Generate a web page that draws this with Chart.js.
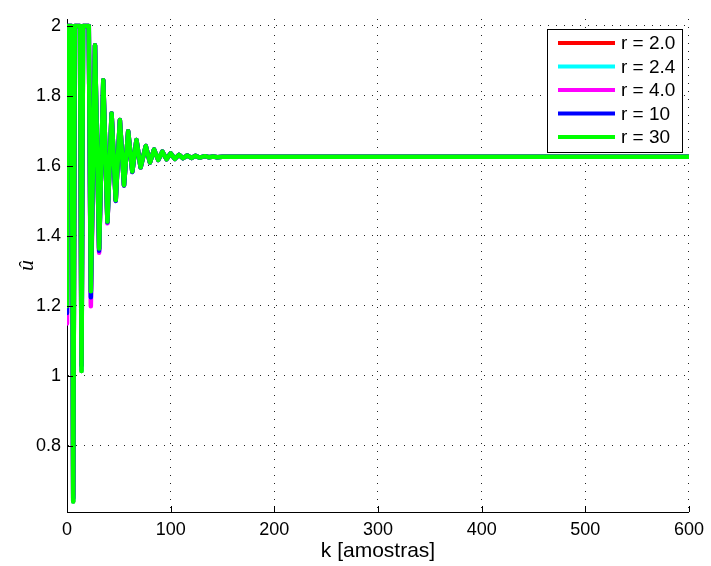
<!DOCTYPE html>
<html>
<head>
<meta charset="utf-8">
<script src="https://cdn.jsdelivr.net/npm/chart.js@4.4.1/dist/chart.umd.min.js"></script>
<style>
  html, body { margin: 0; padding: 0; background: #ffffff; }
  canvas { display: block; }
</style>
</head>
<body>
<canvas id="chart" width="711" height="566"></canvas>
<script>
// Control signal û[k] for each value of r: sample instants where the
// signal turns (saturation edges, peaks, troughs) and the value reached there.
const kR30 = [0, 1, 4.5, 6, 7.5, 12.5, 14, 15.5, 21, 23, 27, 31, 35, 39, 43, 47, 51, 55, 59, 63, 67, 71, 76, 80, 84, 88, 92, 96, 100, 104, 108, 112, 116, 120, 124, 128, 133, 137, 141, 145, 150, 600];
const uR30 = [1.20, 2.00, 2.00, 0.641, 2.00, 2.00, 1.014, 2.00, 2.00, 1.242, 1.945, 1.364, 1.845, 1.441, 1.750, 1.502, 1.731, 1.545, 1.699, 1.584, 1.674, 1.596, 1.657, 1.610, 1.647, 1.617, 1.641, 1.619, 1.636, 1.620, 1.632, 1.622, 1.630, 1.623, 1.629, 1.624, 1.628, 1.625, 1.627, 1.625, 1.626, 1.626];

const kR10 = [0, 1, 4.5, 6, 7.5, 12.5, 14, 15.5, 21, 23, 27, 31, 35, 39, 43, 47, 51, 55, 59, 63, 67, 71, 76, 80, 84, 88, 92, 96, 100, 104, 108, 112, 116, 120, 124, 128, 133, 137, 141, 145, 150, 600];
const uR10 = [1.18, 2.00, 2.00, 0.650, 2.00, 2.00, 1.030, 2.00, 2.00, 1.225, 1.945, 1.358, 1.845, 1.439, 1.750, 1.500, 1.731, 1.544, 1.699, 1.583, 1.674, 1.596, 1.657, 1.610, 1.647, 1.617, 1.641, 1.619, 1.636, 1.620, 1.632, 1.622, 1.630, 1.623, 1.629, 1.624, 1.628, 1.625, 1.627, 1.625, 1.626, 1.626];

const kR4 = [0, 1, 4.5, 6, 7.5, 12.5, 14, 15.5, 21, 23, 27, 31, 35, 39, 43, 47, 51, 55, 59, 63, 67, 71, 76, 80, 84, 88, 92, 96, 100, 104, 108, 112, 116, 120, 124, 128, 133, 137, 141, 145, 150, 600];
const uR4 = [1.15, 2.00, 2.00, 0.660, 2.00, 2.00, 1.050, 2.00, 2.00, 1.199, 1.945, 1.352, 1.845, 1.436, 1.750, 1.500, 1.731, 1.544, 1.699, 1.583, 1.674, 1.596, 1.657, 1.610, 1.647, 1.617, 1.641, 1.619, 1.636, 1.620, 1.632, 1.622, 1.630, 1.623, 1.629, 1.624, 1.628, 1.625, 1.627, 1.625, 1.626, 1.626];

// r = 2.0 and r = 2.4 follow the r = 30 trajectory
const kR24 = kR30.slice();
const uR24 = uR30.slice();
const kR2 = kR30.slice();
const uR2 = uR30.slice();

const seriesLabels = ['r = 2.0', 'r = 2.4', 'r = 4.0', 'r = 10', 'r = 30'];
const seriesColors = ['#ff0000', '#00ffff', '#ff00ff', '#0000ff', '#00ff00'];
const seriesK = [kR2, kR24, kR4, kR10, kR30];
const seriesU = [uR2, uR24, uR4, uR10, uR30];

const xTicks = [0, 100, 200, 300, 400, 500, 600];
const yTicks = [0.8, 1.0, 1.2, 1.4, 1.6, 1.8, 2.0];

const FONT = "'Liberation Sans', Arial, Helvetica, sans-serif";

const datasets = seriesLabels.map((label, i) => ({
  label,
  data: seriesK[i].map((k, j) => ({ x: k, y: seriesU[i][j] })),
  borderColor: seriesColors[i],
  backgroundColor: seriesColors[i],
  borderWidth: 4.5,
  borderJoinStyle: 'round',
  borderCapStyle: 'round',
  pointRadius: 0,
  tension: 0,
  fill: false,
  order: seriesLabels.length - 1 - i
}));

// inward tick marks on the left and bottom axes
const innerTicks = {
  id: 'innerTicks',
  afterDatasetsDraw(chart) {
    const { ctx, chartArea: a, scales: { x, y } } = chart;
    ctx.save();
    ctx.strokeStyle = '#000';
    ctx.lineWidth = 1;
    ctx.beginPath();
    xTicks.forEach(v => {
      const px = Math.round(x.getPixelForValue(v)) + 0.5;
      ctx.moveTo(px, a.bottom);
      ctx.lineTo(px, a.bottom - 6);
    });
    yTicks.forEach(v => {
      const py = Math.round(y.getPixelForValue(v)) + 0.5;
      ctx.moveTo(a.left, py);
      ctx.lineTo(a.left + 6, py);
    });
    ctx.stroke();
    ctx.restore();
  }
};

// boxed legend in the upper right corner of the plot
const boxLegend = {
  id: 'boxLegend',
  afterDraw(chart) {
    const { ctx } = chart;
    const bx = 547.5, by = 29.5, bw = 135, bh = 123;
    ctx.save();
    ctx.fillStyle = '#ffffff';
    ctx.fillRect(bx, by, bw, bh);
    ctx.strokeStyle = '#000000';
    ctx.lineWidth = 1;
    ctx.strokeRect(bx, by, bw, bh);
    ctx.font = '19px ' + FONT;
    ctx.textBaseline = 'middle';
    ctx.textAlign = 'left';
    chart.data.datasets.forEach((ds, i) => {
      const ly = 43 + i * 23.5;
      ctx.strokeStyle = ds.borderColor;
      ctx.lineWidth = 4;
      ctx.lineCap = 'butt';
      ctx.beginPath();
      ctx.moveTo(558, ly);
      ctx.lineTo(615, ly);
      ctx.stroke();
      ctx.fillStyle = '#000000';
      ctx.fillText(ds.label, 621, ly + 1);
    });
    ctx.restore();
  }
};

new Chart(document.getElementById('chart'), {
  type: 'line',
  data: { datasets },
  options: {
    responsive: false,
    animation: false,
    devicePixelRatio: 1,
    layout: { padding: { left: 0, top: 19, right: 19, bottom: 0 } },
    plugins: { legend: { display: false }, tooltip: { enabled: false } },
    scales: {
      x: {
        type: 'linear',
        min: 0,
        max: 600,
        afterBuildTicks(scale) { scale.ticks = xTicks.map(v => ({ value: v })); },
        afterFit(scale) { scale.height = 54; },
        ticks: {
          color: '#000',
          font: { family: FONT, size: 18 },
          padding: 7,
          maxRotation: 0,
          autoSkip: false
        },
        grid: { color: '#222', lineWidth: 1, drawTicks: false },
        border: { display: true, color: '#000', width: 1, dash: [1, 7] },
        title: {
          display: true,
          text: 'k [amostras]',
          color: '#000',
          font: { family: FONT, size: 21 },
          padding: { top: 0, bottom: 2 }
        }
      },
      y: {
        type: 'linear',
        min: 0.611,
        max: 2.02,
        afterBuildTicks(scale) { scale.ticks = yTicks.map(v => ({ value: v })); },
        afterFit(scale) { scale.width = 67; },
        ticks: {
          color: '#000',
          font: { family: FONT, size: 18 },
          padding: 6,
          autoSkip: false,
          callback: v => String(Math.round(v * 10) / 10)
        },
        grid: { color: '#222', lineWidth: 1, drawTicks: false },
        border: { display: true, color: '#000', width: 1, dash: [1, 7] },
        title: {
          display: true,
          text: 'û',
          color: '#000',
          font: { family: "'Liberation Serif', 'DejaVu Serif', serif", size: 22, style: 'italic' },
          padding: { top: 14, bottom: 0 }
        }
      }
    }
  },
  plugins: [innerTicks, boxLegend]
});
</script>
</body>
</html>
